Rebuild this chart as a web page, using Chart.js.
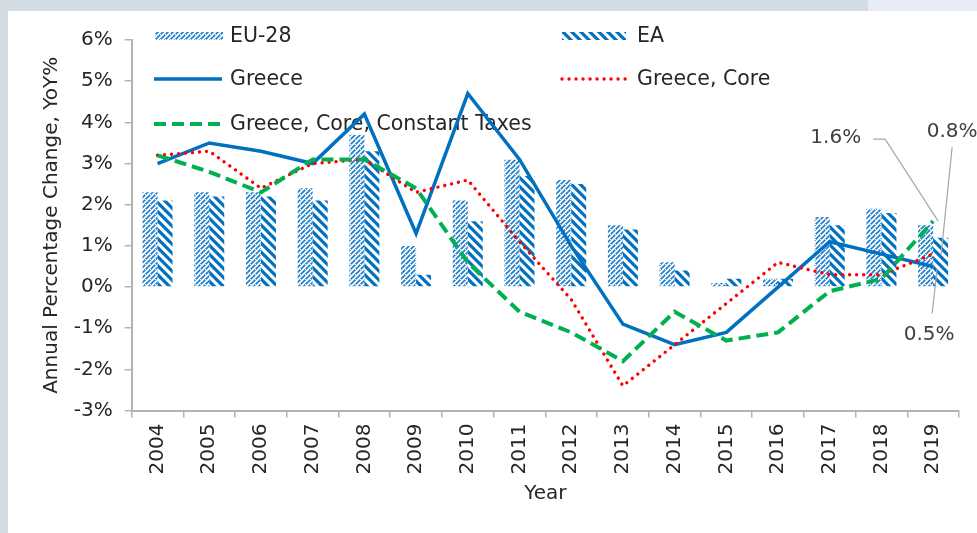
<!DOCTYPE html>
<html>
<head>
<meta charset="utf-8">
<script src="https://cdn.jsdelivr.net/npm/chart.js@4"></script>
<style>
  html, body { margin: 0; padding: 0; background: #ffffff; overflow: hidden; }
  #wrap { position: absolute; left: 0; top: 0; width: 977px; height: 533px; }
  .band1 { position: absolute; left: 0; top: 0; width: 868px; height: 11px; background: #d4dce3; }
  .band2 { position: absolute; left: 868px; top: 0; width: 109px; height: 11px; background: #e8edf5; }
  .band3 { position: absolute; left: 0; top: 0; width: 8px; height: 533px; background: #d4dce3; }
  canvas { position: absolute; left: 0; top: 0; }
</style>
</head>
<body>
<div id="wrap">
  <div class="band1"></div><div class="band2"></div><div class="band3"></div>
  <canvas id="c" width="977" height="533"></canvas>
</div>
<script>
// ---- data ----
const years = ['2004','2005','2006','2007','2008','2009','2010','2011','2012','2013','2014','2015','2016','2017','2018','2019'];
const eu28 = [2.3, 2.3, 2.3, 2.4, 3.7, 1.0, 2.1, 3.1, 2.6, 1.5, 0.6, 0.1, 0.2, 1.7, 1.9, 1.5];
const ea = [2.1, 2.2, 2.2, 2.1, 3.3, 0.3, 1.6, 2.7, 2.5, 1.4, 0.4, 0.2, 0.2, 1.5, 1.8, 1.2];
const greece = [3.0, 3.5, 3.3, 3.0, 4.2, 1.3, 4.7, 3.1, 1.0, -0.9, -1.4, -1.1, 0.0, 1.1, 0.8, 0.5];
const greeceCore = [3.2, 3.3, 2.4, 3.0, 3.1, 2.3, 2.6, 1.1, -0.3, -2.4, -1.4, -0.4, 0.6, 0.3, 0.3, 0.8];
const greeceCoreCT = [3.2, 2.8, 2.3, 3.1, 3.1, 2.4, 0.6, -0.6, -1.1, -1.8, -0.6, -1.3, -1.1, -0.1, 0.2, 1.6];
const yTickValues = [-3, -2, -1, 0, 1, 2, 3, 4, 5, 6];
const seriesNames = ['EU-28', 'EA', 'Greece', 'Greece, Core', 'Greece, Core, Constant Taxes'];
const xTitle = 'Year';
const yTitle = 'Annual Percentage Change, YoY%';

// ---- styles ----
const BLUE = '#0070C0', RED = '#FF0000', GREEN = '#00B050';
const FONT = '"DejaVu Sans", sans-serif';
const TXT = '#262626';
const AXIS = '#b3b3b3';

function makeLightPattern() {
  const t = document.createElement('canvas');
  t.width = 5; t.height = 5;
  const g = t.getContext('2d');
  g.strokeStyle = '#1f7fcc';
  g.lineWidth = 1.6;
  g.beginPath();
  g.moveTo(-1, 6); g.lineTo(6, -1);
  g.moveTo(-6, 6); g.lineTo(1, -1);
  g.moveTo(4, 6); g.lineTo(11, -1);
  g.stroke();
  // small gaps to give the dotted look
  g.clearRect(0, 4, 1, 1);
  return g.createPattern(t, 'repeat');
}
function makeWidePattern() {
  const t = document.createElement('canvas');
  t.width = 9; t.height = 9;
  const g = t.getContext('2d');
  g.strokeStyle = BLUE;
  g.lineWidth = 3.2;
  g.beginPath();
  g.moveTo(-2, -2); g.lineTo(11, 11);
  g.moveTo(-11, -2); g.lineTo(2, 11);
  g.moveTo(7, -2); g.lineTo(20, 11);
  g.stroke();
  return g.createPattern(t, 'repeat');
}
const lightPat = makeLightPattern();
const widePat = makeWidePattern();

const legendPlugin = {
  id: 'customLegend',
  beforeDatasetsDraw(chart) {
    const ctx = chart.ctx;
    ctx.save();
    ctx.font = '20.5px ' + FONT;
    ctx.fillStyle = TXT;
    ctx.textBaseline = 'middle';
    ctx.textAlign = 'left';
    // row 1
    ctx.fillStyle = lightPat; ctx.fillRect(155, 32, 68, 8);
    ctx.fillStyle = widePat; ctx.fillRect(562, 32, 64, 8);
    ctx.fillStyle = TXT;
    ctx.fillText(seriesNames[0], 230, 37);
    ctx.fillText(seriesNames[1], 637, 37);
    // row 2
    ctx.lineWidth = 3.5; ctx.strokeStyle = BLUE; ctx.setLineDash([]);
    ctx.beginPath(); ctx.moveTo(154, 79); ctx.lineTo(222, 79); ctx.stroke();
    ctx.strokeStyle = RED; ctx.lineCap = 'round'; ctx.lineWidth = 3.4; ctx.setLineDash([0.01, 7]);
    ctx.beginPath(); ctx.moveTo(562, 79); ctx.lineTo(630, 79); ctx.stroke();
    ctx.lineCap = 'butt';
    ctx.fillText(seriesNames[2], 230, 80);
    ctx.fillText(seriesNames[3], 637, 80);
    // row 3
    ctx.strokeStyle = GREEN; ctx.lineWidth = 4; ctx.setLineDash([12, 6]);
    ctx.beginPath(); ctx.moveTo(154, 124); ctx.lineTo(224, 124); ctx.stroke();
    ctx.setLineDash([]);
    ctx.fillText(seriesNames[4], 230, 125);
    ctx.restore();
  }
};

const annotPlugin = {
  id: 'annots',
  afterDatasetsDraw(chart) {
    const ctx = chart.ctx;
    const last = years.length - 1;
    const pG = chart.getDatasetMeta(4).data[last];
    const pR = chart.getDatasetMeta(3).data[last];
    const pB = chart.getDatasetMeta(2).data[last];
    ctx.save();
    ctx.strokeStyle = '#a6a6a6';
    ctx.lineWidth = 1.2;
    ctx.beginPath();
    ctx.moveTo(pG.x - 60, pG.y - 82); ctx.lineTo(pG.x - 48, pG.y - 82); ctx.lineTo(pG.x + 5, pG.y);
    ctx.moveTo(pR.x + 19, pR.y - 107); ctx.lineTo(pR.x + 8, pR.y);
    ctx.moveTo(pB.x + 4, pB.y + 2); ctx.lineTo(pB.x - 1, pB.y + 47);
    ctx.stroke();
    ctx.font = '20px ' + FONT;
    ctx.fillStyle = '#404040';
    ctx.textBaseline = 'middle';
    ctx.textAlign = 'right';
    ctx.fillText(greeceCoreCT[last].toFixed(1) + '%', pG.x - 72, pG.y - 83);
    ctx.textAlign = 'center';
    ctx.fillText(greeceCore[last].toFixed(1) + '%', pR.x + 19, pR.y - 122);
    ctx.fillText(greece[last].toFixed(1) + '%', pB.x - 4, pB.y + 68);
    ctx.restore();
  }
};

new Chart(document.getElementById('c'), {
  type: 'bar',
  data: {
    labels: years,
    datasets: [
      { type: 'bar', label: seriesNames[0], data: eu28, backgroundColor: lightPat, borderWidth: 0, order: 4,
        categoryPercentage: 0.58, barPercentage: 1.0 },
      { type: 'bar', label: seriesNames[1], data: ea, backgroundColor: widePat, borderWidth: 0, order: 4,
        categoryPercentage: 0.58, barPercentage: 1.0 },
      { type: 'line', label: seriesNames[2], data: greece, borderColor: BLUE, borderWidth: 3.5,
        pointRadius: 0, tension: 0, order: 2, borderJoinStyle: 'miter' },
      { type: 'line', label: seriesNames[3], data: greeceCore, borderColor: RED, borderWidth: 3.4,
        borderDash: [0.01, 7], borderCapStyle: 'round', pointRadius: 0, tension: 0, order: 1 },
      { type: 'line', label: seriesNames[4], data: greeceCoreCT, borderColor: GREEN, borderWidth: 4,
        borderDash: [12, 6], pointRadius: 0, tension: 0, order: 0 }
    ]
  },
  options: {
    responsive: false,
    animation: false,
    layout: { padding: { left: 0, right: 18, top: 40, bottom: 0 } },
    plugins: { legend: { display: false }, tooltip: { enabled: false } },
    scales: {
      x: {
        grid: { display: true, drawOnChartArea: false, offset: true, tickLength: 7, color: AXIS, lineWidth: 1.5 },
        border: { display: true, color: AXIS, width: 2 },
        ticks: { color: TXT, font: { family: FONT, size: 20 }, minRotation: 90, maxRotation: 90, autoSkip: false, padding: 6 },
        title: { display: true, text: xTitle, color: TXT, font: { family: FONT, size: 20, lineHeight: 1.2 }, padding: { top: 0, bottom: 27 } },
        afterFit(scale) { scale.height = 122.4; }
      },
      y: {
        min: -3, max: 6,
        afterBuildTicks(scale) { scale.ticks = yTickValues.map(v => ({ value: v })); },
        grid: { display: true, drawOnChartArea: false, tickLength: 7, color: AXIS, lineWidth: 1.5 },
        border: { display: true, color: AXIS, width: 2 },
        ticks: { color: TXT, font: { family: FONT, size: 20 }, padding: 12, callback: v => v + '%' },
        title: { display: true, text: yTitle, color: TXT, font: { family: FONT, size: 20, lineHeight: 1.2 }, padding: { top: 40, bottom: 0 } },
        afterFit(scale) { scale.width = 131.7; }
      }
    }
  },
  plugins: [legendPlugin, annotPlugin]
});
</script>
</body>
</html>
